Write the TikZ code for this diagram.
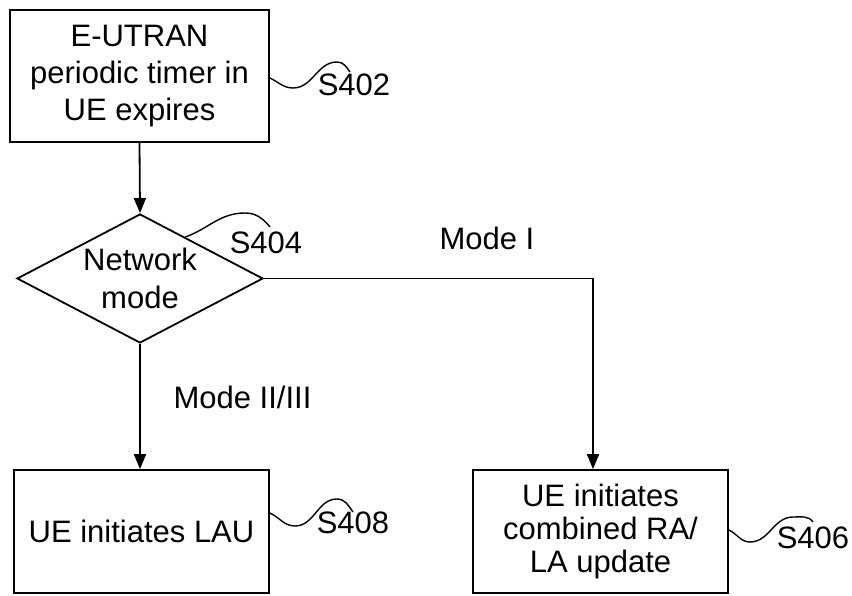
\documentclass[tikz,border=0pt]{standalone}
\usepackage{fontspec}
\setmainfont{Liberation Sans}
\usetikzlibrary{arrows.meta, shapes.geometric, calc}

\tikzset{
  stepbox/.style={draw, line width=1.8pt, align=center, inner sep=0pt, font=\fontsize{31}{37}\selectfont},
  choice/.style={draw, diamond, aspect=1.9, line width=1.8pt, align=center, inner sep=0pt,
    minimum width=246pt, minimum height=129pt, font=\fontsize{31}{38}\selectfont},
  tag/.style={font=\fontsize{31}{36}\selectfont, inner sep=0pt},
  wave/.style={line width=1.4pt},
  flow/.style={->, line width=1.8pt}
}

\begin{document}
\begin{tikzpicture}[x=1pt, y=1pt, >={Triangle[length=15pt,width=12pt]}]
		\useasboundingbox (0,0) rectangle (852,595);
		% steps
		\node[stepbox, minimum width=259pt, minimum height=132pt] (timer) at (139.5,519) {E-UTRAN\\periodic timer in\\UE expires};
		\node[choice] (mode) at (140,316.5) {Network\\mode};
		\node[stepbox, minimum width=255pt, minimum height=123pt] (lau) at (141.5,63.5) {UE initiates LAU};
		\node[stepbox, minimum width=255pt, minimum height=123pt, font=\fontsize{31}{33}\selectfont] (update) at (600.5,63.5) {UE initiates\\combined RA/\\LA update};

		% flow
		\draw[flow] (timer.south) -- (mode.north);
		\draw[flow] (mode.south) -- (mode.south |- lau.north);
		\draw[flow] (mode.east) -| ([xshift=-7.5pt]update.north);
		\node[tag] (modeI) at (487,357) {Mode I};
		\node[tag] (modeII) at (242.5,198) {Mode II/III};

		% step numbers
		\node[tag] (s402) at (354,510) {S402};
		\draw[wave] ([yshift=-2pt]timer.east) to[out=-25,in=180] (293,507) to[out=0,in=180] (337,533) to[out=0,in=125] (350,523);
		\node[tag] (s404) at (266,352) {S404};
		\draw[wave] ($(mode.north)!0.366!(mode.east)$) to[out=20,in=180] (245,382) to[out=0,in=130] (270,368);
		\node[tag] (s408) at (353,72) {S408};
		\draw[wave] ([yshift=18.5pt]lau.east) to[out=-25,in=180] (295,69) to[out=0,in=180] (337,96) to[out=0,in=125] (353,83);
		\node[tag] (s406) at (813,57) {S406};
		\draw[wave] ([yshift=1.5pt]update.east) to[out=-25,in=180] (750,53) to[out=0,in=180] (793,78) to[out=0,in=125] (813,73);
\end{tikzpicture}
\end{document}
